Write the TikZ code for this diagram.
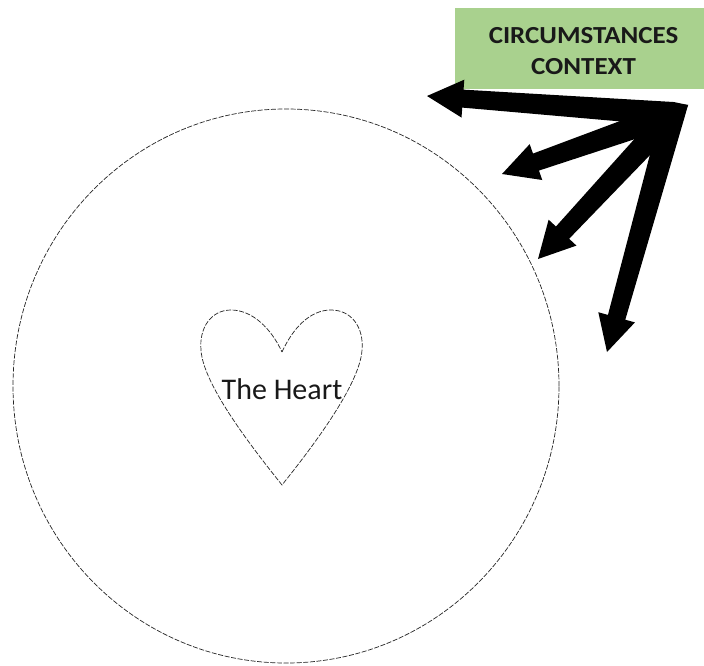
\documentclass[tikz,border=0pt]{standalone}
\usepackage{fontspec}
\setmainfont{Carlito}
\newfontfamily\boxfont[FakeStretch=1.1]{Carlito}
\usetikzlibrary{calc,shapes.geometric}
\definecolor{boxgreen}{HTML}{A9D18E}
\tikzset{
  thinDash/.style={draw=black!85, line width=0.7pt, dash pattern=on 5pt off 1.6pt},
  ctxbox/.style={fill=boxgreen, minimum width=249pt, minimum height=81pt, inner sep=0pt},
  ctxtext/.style={align=center, inner sep=0pt, font=\boxfont\fontsize{24.5}{31}\selectfont\bfseries, text=black!90},
  heartlabel/.style={font=\fontsize{30}{36}\selectfont, text=black!90, inner sep=0pt}
}
\newcommand{\fatarrowto}[1]{%
  \coordinate (H) at ($(#1)!36pt!(O)$);
  \fill ($(O)!12pt!90:(#1)$) -- ($(H)!9pt!90:(#1)$) -- ($(H)!19pt!90:(#1)$) -- (#1)
     -- ($(H)!19pt!-90:(#1)$) -- ($(H)!9pt!-90:(#1)$) -- ($(O)!12pt!-90:(#1)$) -- cycle;
  \fill (C) -- ($(O)!12pt!90:(#1)$) -- ($(O)!12pt!-90:(#1)$) -- cycle;
}
\begin{document}
\begin{tikzpicture}[x=1pt,y=-1pt]
\useasboundingbox (0,0) rectangle (704,666);
\fill[white] (0,0) rectangle (704,666);
% outer circle
\node[thinDash, ellipse, minimum width=546pt, minimum height=554pt, inner sep=0pt] (outer) at (286,386) {};
% heart
\draw[thinDash] (282,352) .. controls (293,328) and (310,310) .. (331,310)
  .. controls (352,310) and (364,328) .. (362,350)
  .. controls (360,385) and (310,450) .. (282,485)
  .. controls (254,450) and (203,385) .. (201,350)
  .. controls (199,328) and (211,310) .. (231,310)
  .. controls (252,310) and (271,328) .. (282,352) -- cycle;
\node[heartlabel] (heart) at (282,389) {The Heart};
% context box
\node[ctxbox] (ctx) at (579.5,48.5) {};
\node[ctxtext] (ctxlabel) at (583.5,51.5) {CIRCUMSTANCES\\CONTEXT};
% arrows
\coordinate (O) at (673,114);
\coordinate (C) at (688,105);
\coordinate (t1) at (427,96);
\coordinate (t2) at (502,174);
\coordinate (t3) at (538,259);
\coordinate (t4) at (607,352);
\fatarrowto{t1}
\fatarrowto{t2}
\fatarrowto{t3}
\fatarrowto{t4}
\end{tikzpicture}
\end{document}
